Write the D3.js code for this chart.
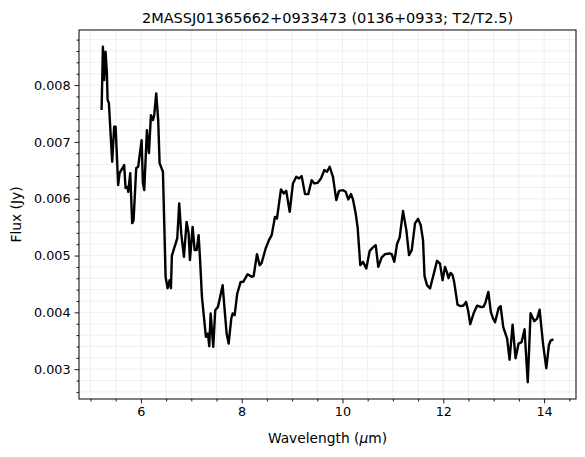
<!DOCTYPE html>
<html>
<head>
<meta charset="utf-8">
<script src="https://cdn.jsdelivr.net/npm/d3@7"></script>
<style>
  body { margin: 0; background: #fff; }
  svg text { font-family: "DejaVu Sans", sans-serif; fill: #000; }
</style>
</head>
<body>
<svg id="chart" width="585" height="457"></svg>
<script>
// spectrum: wavelength in micron, flux in Jy
var wavelength = [5.220, 5.246, 5.271, 5.299, 5.325, 5.339, 5.365, 5.430, 5.470, 5.498,
  5.549, 5.577, 5.668, 5.696, 5.736, 5.748, 5.788, 5.827, 5.855, 5.907,
  5.946, 6.014, 6.040, 6.066, 6.119, 6.159, 6.199, 6.238, 6.264, 6.304,
  6.343, 6.371, 6.437, 6.490, 6.530, 6.570, 6.596, 6.615, 6.721, 6.760,
  6.800, 6.854, 6.907, 6.947, 6.973, 7.026, 7.066, 7.106, 7.145, 7.171,
  7.211, 7.290, 7.330, 7.356, 7.384, 7.435, 7.475, 7.529, 7.622, 7.662,
  7.701, 7.741, 7.793, 7.820, 7.860, 7.912, 7.979, 8.031, 8.070, 8.118,
  8.198, 8.237, 8.303, 8.356, 8.396, 8.475, 8.541, 8.595, 8.660, 8.700,
  8.779, 8.833, 8.884, 8.952, 9.017, 9.083, 9.136, 9.190, 9.256, 9.321,
  9.389, 9.440, 9.508, 9.573, 9.639, 9.692, 9.746, 9.811, 9.877, 9.931,
  10.010, 10.064, 10.115, 10.169, 10.208, 10.262, 10.302, 10.353, 10.407, 10.472,
  10.540, 10.605, 10.659, 10.710, 10.778, 10.844, 10.937, 10.977, 11.028, 11.082,
  11.135, 11.201, 11.267, 11.320, 11.374, 11.439, 11.499, 11.552, 11.598, 11.628,
  11.677, 11.737, 11.876, 11.935, 11.985, 12.034, 12.074, 12.104, 12.144, 12.184,
  12.213, 12.283, 12.342, 12.402, 12.452, 12.491, 12.535, 12.607, 12.670, 12.749,
  12.799, 12.839, 12.894, 12.944, 12.988, 13.027, 13.097, 13.137, 13.190, 13.236,
  13.266, 13.315, 13.375, 13.434, 13.494, 13.553, 13.613, 13.637, 13.676, 13.732,
  13.807, 13.861, 13.911, 13.980, 14.044, 14.097, 14.129, 14.185];

var flux = [0.00756, 0.008674, 0.008088, 0.008586, 0.008211, 0.007736, 0.007683, 0.00665, 0.007266, 0.007266,
  0.00624, 0.006451, 0.006592, 0.006187, 0.006209, 0.006121, 0.006451, 0.00557, 0.005623, 0.006539,
  0.006562, 0.007032, 0.006275, 0.006151, 0.007208, 0.006803, 0.007472, 0.007384, 0.007472, 0.007854,
  0.007384, 0.006627, 0.006474, 0.004625, 0.004426, 0.004567, 0.004426, 0.005000, 0.005301, 0.005917,
  0.005389, 0.004977, 0.005593, 0.005389, 0.004919, 0.005505, 0.005095, 0.005095, 0.005359, 0.004977,
  0.004273, 0.003569, 0.003628, 0.003405, 0.003980, 0.003393, 0.004039, 0.004097, 0.004479, 0.004039,
  0.003628, 0.003452, 0.003892, 0.003980, 0.003951, 0.004333, 0.004537, 0.004537, 0.004597, 0.004672,
  0.004625, 0.004637, 0.005025, 0.004831, 0.004871, 0.005125, 0.005271, 0.005359, 0.005681, 0.005653,
  0.006164, 0.006093, 0.006139, 0.005769, 0.006269, 0.006386, 0.006357, 0.006398, 0.006081, 0.006081,
  0.006327, 0.006269, 0.006280, 0.006357, 0.006504, 0.006474, 0.006562, 0.006386, 0.005975, 0.006139,
  0.006151, 0.006121, 0.005988, 0.006081, 0.005988, 0.005741, 0.005477, 0.004831, 0.004889, 0.004773,
  0.005083, 0.005143, 0.005183, 0.004801, 0.004967, 0.005025, 0.005037, 0.005025, 0.004889, 0.005201,
  0.005319, 0.005787, 0.005447, 0.005007, 0.005095, 0.005565, 0.005646, 0.005535, 0.005271, 0.004637,
  0.004479, 0.004421, 0.004907, 0.004857, 0.004567, 0.004801, 0.004700, 0.004602, 0.004695, 0.004655,
  0.004549, 0.004136, 0.004109, 0.004121, 0.004185, 0.004039, 0.003792, 0.003995, 0.004118, 0.004095,
  0.004100, 0.004180, 0.004361, 0.004004, 0.003892, 0.003827, 0.004074, 0.004109, 0.003739, 0.003616,
  0.003541, 0.003167, 0.003783, 0.003194, 0.003452, 0.003475, 0.003704, 0.003334, 0.002771, 0.003986,
  0.003845, 0.003889, 0.004047, 0.003440, 0.003018, 0.003431, 0.003502, 0.003528];

var xTicks = [6, 8, 10, 12, 14];
var yTicks = [0.003, 0.004, 0.005, 0.006, 0.007, 0.008];
var titleText = '2MASSJ01365662+0933473 (0136+0933; T2/T2.5)';

var svg = d3.select('#chart');
var plotL = 79, plotR = 576, plotT = 30, plotB = 399;

// matplotlib-like 5% margins
var xExt = d3.extent(wavelength), yExt = d3.extent(flux);
var xPad = (xExt[1] - xExt[0]) * 0.05, yPad = (yExt[1] - yExt[0]) * 0.05;
var x = d3.scaleLinear().domain([xExt[0] - xPad, xExt[1] + xPad]).range([plotL, plotR]);
var y = d3.scaleLinear().domain([yExt[0] - yPad, yExt[1] + yPad]).range([plotB, plotT]);

var xMinor = d3.range(9, 31).map(function(v) { return v / 2; })
  .filter(function(v) { return v >= x.domain()[0] && v <= x.domain()[1]; });
var yMinor = d3.range(10, 48).map(function(v) { return v * 0.0002; })
  .filter(function(v) { return v >= y.domain()[0] && v <= y.domain()[1]; });

// grid (major + minor)
var grid = svg.append('g').attr('class', 'grid')
  .style('stroke', '#ebebeb').style('stroke-width', '0.8px');
grid.selectAll('line.v').data(xMinor).enter().append('line')
  .attr('x1', function(d) { return x(d); }).attr('x2', function(d) { return x(d); })
  .attr('y1', plotT).attr('y2', plotB);
grid.selectAll('line.h').data(yMinor).enter().append('line')
  .attr('y1', function(d) { return y(d); }).attr('y2', function(d) { return y(d); })
  .attr('x1', plotL).attr('x2', plotR);

// spectrum
var line = d3.line()
  .x(function(d, i) { return x(wavelength[i]); })
  .y(function(d) { return y(d); });
svg.append('path').datum(flux)
  .attr('d', line)
  .style('fill', 'none')
  .style('stroke', '#000')
  .style('stroke-width', '2.4px')
  .style('stroke-linejoin', 'round');

// axes
var xAxis = d3.axisBottom(x).tickValues(xTicks).tickFormat(d3.format('d')).tickSize(4.4).tickPadding(4);
var yAxis = d3.axisLeft(y).tickValues(yTicks).tickFormat(d3.format('.3f')).tickSize(4.4).tickPadding(4);
var xMinorAxis = d3.axisBottom(x).tickValues(xMinor.filter(function(v) { return v % 2 !== 0; })).tickFormat('').tickSize(2.5);
var yMinorAxis = d3.axisLeft(y).tickValues(yMinor.filter(function(v) { return Math.round(v * 10000) % 10 !== 0; })).tickFormat('').tickSize(2.5);

[xAxis, xMinorAxis].forEach(function(a) {
  svg.append('g').attr('transform', 'translate(0,' + plotB + ')').call(a);
});
[yAxis, yMinorAxis].forEach(function(a) {
  svg.append('g').attr('transform', 'translate(' + plotL + ',0)').call(a);
});
svg.selectAll('.domain').remove();
svg.selectAll('.tick line').style('stroke', '#000').style('stroke-width', '0.9px');
svg.selectAll('.tick text').style('font-size', '12.8px').style('font-family', '"DejaVu Sans", sans-serif');

// frame
svg.append('rect')
  .attr('x', plotL).attr('y', plotT)
  .attr('width', plotR - plotL).attr('height', plotB - plotT)
  .style('fill', 'none').style('stroke', '#000').style('stroke-width', '1px');

// labels
svg.append('text')
  .attr('x', (plotL + plotR) / 2).attr('y', 22.5)
  .attr('text-anchor', 'middle')
  .style('font-size', '14.5px')
  .text(titleText);

var xl = svg.append('text')
  .attr('x', (plotL + plotR) / 2).attr('y', 442.5)
  .attr('text-anchor', 'middle')
  .style('font-size', '13.8px');
xl.append('tspan').text('Wavelength (');
xl.append('tspan').style('font-style', 'italic').text('\u03bc');
xl.append('tspan').text('m)');

svg.append('text')
  .attr('transform', 'translate(20.5,' + ((plotT + plotB) / 2) + ') rotate(-90)')
  .attr('text-anchor', 'middle')
  .style('font-size', '13.8px')
  .text('Flux (Jy)');
</script>
</body>
</html>
